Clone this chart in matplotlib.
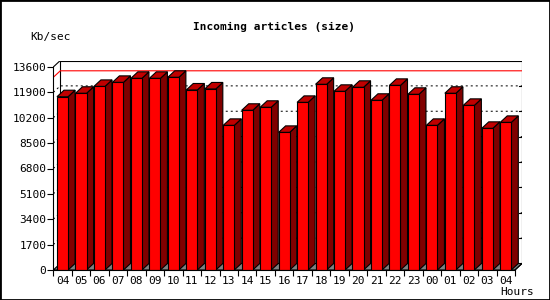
import matplotlib.pyplot as plt
from matplotlib.patches import Polygon, Rectangle

hours = ["04", "05", "06", "07", "08", "09", "10", "11", "12", "13", "14", "15",
         "16", "17", "18", "19", "20", "21", "22", "23", "00", "01", "02", "03", "04"]
size_kb = [11610, 11840, 12300, 12570, 12840, 12840, 12910, 12060, 12130, 9690,
           10700, 10900, 9220, 11230, 12440, 11970, 12240, 11370, 12370, 11770,
           9690, 11840, 11030, 9490, 9890]
yticks = list(range(0, 13601, 1700))
ytop = 13600

W, H = 550, 300
# pixel layout of the 3d box (front plane + depth)
x0_px, y0_px = 53.3, 270
slot_px = 461.7 / len(hours)
y_scale = 203 / ytop          # px per unit
dep_x_px, dep_y_px = 7, 6.5
LW = 0.8

fig = plt.figure(figsize=(W / 100, H / 100), dpi=100)
fig.patch.set_facecolor("white")
ax_w_px = len(hours) * slot_px + dep_x_px
ax_h_px = ytop * y_scale + dep_y_px
ax = fig.add_axes([x0_px / W, (H - y0_px) / H, ax_w_px / W, ax_h_px / H])
ax.set_xlim(-0.5, -0.5 + ax_w_px / slot_px)
ax.set_ylim(0, ax_h_px / y_scale)
ax.patch.set_visible(False)

DX = dep_x_px / slot_px
DY = dep_y_px / y_scale
xl, xr = -0.5, len(hours) - 0.5
xb = xr + DX

# floor
ax.add_patch(Polygon([(xl, 0), (xr, 0), (xr + DX, DY), (xl + DX, DY)], closed=True,
                     facecolor="#808080", edgecolor="black", lw=LW, zorder=1))

# back wall frame
ax.plot([xl + DX, xl + DX, xb, xb], [DY, ytop + DY, ytop + DY, DY], color="black", lw=LW, zorder=1)
ax.plot([xl, xl + DX], [ytop, ytop + DY], color="black", lw=LW, zorder=1)
ax.plot([xr, xr + DX], [0, DY], color="black", lw=LW, zorder=5)

# dotted grid on the back wall and left wall
for v in yticks[1:-1]:
    ax.plot([xl, xl + DX, xb], [v, v + DY, v + DY], color="black", lw=0.72,
            linestyle=(0, (2, 3)), zorder=2)
    ax.plot([xb - 0.16, xb], [v + DY, v + DY], color="black", lw=LW, zorder=2)

# max line
vmax = max(size_kb)
ax.plot([xl, xl + DX, xb], [vmax, vmax + DY, vmax + DY], color="red", lw=LW, zorder=2)

# bars
bw = 0.6
xs = list(range(len(hours)))
ax.bar(xs, size_kb, width=bw, color="#ff0000", edgecolor="black", linewidth=LW, zorder=4)
for x, v in zip(xs, size_kb):
    r = x + bw / 2
    l = x - bw / 2
    ax.add_patch(Polygon([(r, 0), (r, v), (r + DX, v + DY), (r + DX, DY)], closed=True,
                         facecolor="#800000", edgecolor="black", lw=LW, zorder=3))
    ax.add_patch(Polygon([(l, v), (r, v), (r + DX, v + DY), (l + DX, v + DY)], closed=True,
                         facecolor="#c00000", edgecolor="black", lw=LW, zorder=3))

# axes
for s in ["top", "right"]:
    ax.spines[s].set_visible(False)
ax.spines["left"].set_bounds(0, ytop)
ax.spines["bottom"].set_bounds(xl, xr)
for s in ["left", "bottom"]:
    ax.spines[s].set_zorder(6)
    ax.spines[s].set_linewidth(LW)

mono = "DejaVu Sans Mono"
ax.set_yticks(yticks)
ax.set_yticklabels([str(v) for v in yticks], fontsize=8, family=mono)
ax.tick_params(axis="y", direction="out", length=4, width=LW, pad=1)
ax.set_xticks(xs)
ax.set_xticklabels(hours, fontsize=8, family=mono)
ax.set_xticks([x - 0.5 for x in xs] + [xr], minor=True)
ax.tick_params(axis="x", which="major", length=0, pad=4)
ax.tick_params(axis="x", which="minor", direction="out", length=4, width=LW)

fig.text(274 / W, 1 - 27 / H, "Incoming articles (size)", ha="center", va="center",
         fontsize=8, family=mono, fontweight="bold")
fig.text(30 / W, 1 - 37 / H, "Kb/sec", ha="left", va="center", fontsize=8, family=mono)
fig.text(534 / W, 1 - 292 / H, "Hours", ha="right", va="center", fontsize=8, family=mono)

fig.add_artist(Rectangle((0, 0), 1, 1, transform=fig.transFigure, fill=False,
                         edgecolor="black", lw=2))

fig.savefig("out.png", dpi=100)
